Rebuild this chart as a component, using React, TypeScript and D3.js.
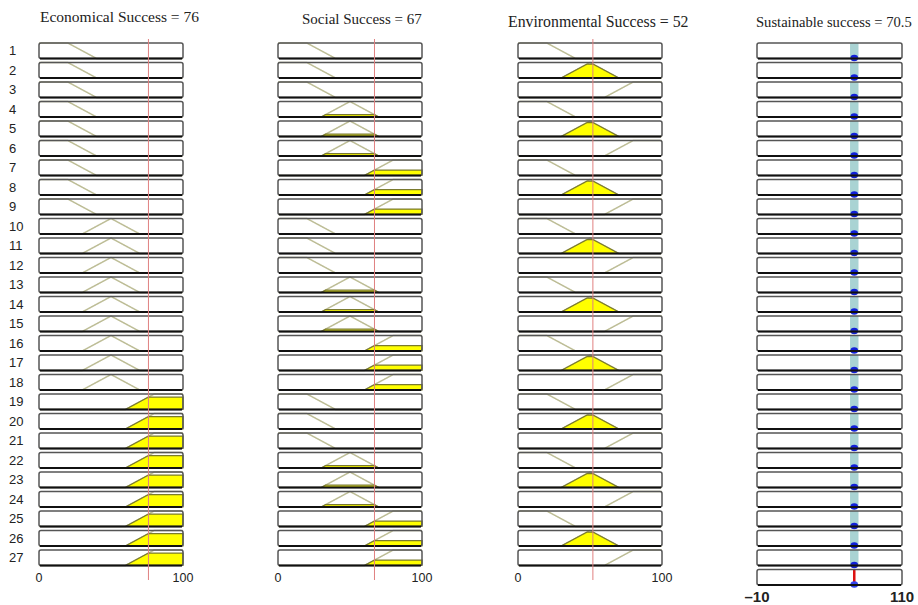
import React from "react";
import * as d3 from "d3";

// Input variables and their crisp values
const inputNames = ["Economical Success", "Social Success", "Environmental Success"];
const inputValues = [76, 67, 52];
const outputName = "Sustainable success";
const outputValue = 70.5;
const outputDomain: [number, number] = [-10, 110];
const inputDomain: [number, number] = [0, 100];

// Membership functions shared by all inputs (low, medium, high)
const mfLow = [0, 0, 20, 40];
const mfMedium = [30, 50, 50, 70];
const mfHigh = [60, 80, 100, 100];
const memberships = [mfLow, mfMedium, mfHigh];

// Rule antecedents: index of membership function per input (0 low, 1 medium, 2 high)
const ruleEcon = [0,0,0,0,0,0,0,0,0, 1,1,1,1,1,1,1,1,1, 2,2,2,2,2,2,2,2,2];
const ruleSocial = [0,0,0,1,1,1,2,2,2, 0,0,0,1,1,1,2,2,2, 0,0,0,1,1,1,2,2,2];
const ruleEnv = [0,1,2,0,1,2,0,1,2, 0,1,2,0,1,2,0,1,2, 0,1,2,0,1,2,0,1,2];
const ruleOutputs = Array(27).fill(70.5);
const outputSpread = 7;

const W = 918;
const H = 605;
const rowTop = 43;
const rowPitch = 19.5;
const boxH = 15.5;

const panelX = [
  [39, 183],
  [278, 422],
  [518, 662],
];
const outPanelX: [number, number] = [757, 902];

const titlePos = [
  { x: 40, y: 22, size: 15.5 },
  { x: 302, y: 24, size: 15 },
  { x: 508, y: 27, size: 15.8 },
];
const outTitlePos = { x: 756, y: 27, size: 14.6 };

function trap(x: number, p: number[]) {
  const [a, b, c, d] = p;
  if (x < a || x > d) return 0;
  if (x >= b && x <= c) return 1;
  if (x < b) return b === a ? 1 : (x - a) / (b - a);
  return d === c ? 1 : (d - x) / (d - c);
}

const rules = ruleEcon.map((e, i) => [e, ruleSocial[i], ruleEnv[i]]);

export default function App() {
  const xs = d3.range(0, 100.0001, 0.25);
  const outX = d3.scaleLinear().domain(outputDomain).range(outPanelX);
  const mfLineColor = "#bdbd96";
  const fillColor = "#ffff00";
  const fillStroke = "#7a7a2e";
  const redLine = "#e08080";
  const sans = "'Liberation Sans', Arial, sans-serif";
  const serif = "'Liberation Serif', serif";

  const box = (x0: number, x1: number, y: number, key: string) => (
    <g key={key}>
      <rect x={x0} y={y} width={x1 - x0} height={boxH} rx={2} fill="none" stroke="#555" strokeWidth={1.5} />
      <line x1={x0 + 1} x2={x1 - 1} y1={y + boxH} y2={y + boxH} stroke="#111" strokeWidth={2} />
    </g>
  );

  return (
    <svg width={W} height={H} style={{ position: "absolute", left: 0, top: 0, background: "#fff" }}>
      {inputNames.map((name, k) => {
        const [x0, x1] = panelX[k];
        const x = d3.scaleLinear().domain(inputDomain).range([x0, x1]);
        const val = inputValues[k];
        return (
          <g key={name}>
            <text x={titlePos[k].x} y={titlePos[k].y} fontFamily={serif} fontSize={titlePos[k].size} fill="#222">
              {`${name} = ${val}`}
            </text>
            {rules.map((r, i) => {
              const top = rowTop + i * rowPitch;
              const y = d3.scaleLinear().domain([0, 1]).range([top + boxH, top]);
              const p = memberships[r[k]];
              const deg = trap(val, p);
              const line = d3.line<number>().x((v) => x(v)).y((v) => y(trap(v, p)));
              const area = d3
                .area<number>()
                .x((v) => x(v))
                .y0(y(0))
                .y1((v) => y(Math.min(trap(v, p), deg)));
              const support = xs.filter((v) => trap(v, p) > 0);
              return (
                <g key={i}>
                  <rect x={x0} y={top} width={x1 - x0} height={boxH} fill="#fff" />
                  <path d={line(xs) || ""} fill="none" stroke={mfLineColor} strokeWidth={1.5} />
                  {deg > 0 && (
                    <path d={area(support) || ""} fill={fillColor} stroke={fillStroke} strokeWidth={1.2} />
                  )}
                  {box(x0, x1, top, "b" + i)}
                </g>
              );
            })}
            <line x1={x(val)} x2={x(val)} y1={39} y2={580} stroke={redLine} strokeWidth={1} />
            <text x={x0} y={582} textAnchor="middle" fontFamily={sans} fontSize={12.5} fill="#222">
              {inputDomain[0]}
            </text>
            <text x={x1} y={582} textAnchor="middle" fontFamily={sans} fontSize={12.5} fill="#222">
              {inputDomain[1]}
            </text>
          </g>
        );
      })}

      {rules.map((_, i) => (
        <text key={"n" + i} x={9} y={rowTop + i * rowPitch + boxH / 2 + 4.5} fontFamily={sans} fontSize={13} fill="#222">
          {i + 1}
        </text>
      ))}

      {/* Output panel */}
      <g>
        <text x={outTitlePos.x} y={outTitlePos.y} fontFamily={serif} fontSize={outTitlePos.size} fill="#222">
          {`${outputName} = ${outputValue}`}
        </text>
        {ruleOutputs.map((ov, i) => {
          const top = rowTop + i * rowPitch;
          return (
            <g key={i}>
              <rect x={outPanelX[0]} y={top} width={outPanelX[1] - outPanelX[0]} height={boxH} fill="#fff" />
              <rect
                x={outX(ov - outputSpread / 2)}
                y={top}
                width={outX(ov + outputSpread / 2) - outX(ov - outputSpread / 2)}
                height={boxH}
                fill="#a9d3d3"
              />
              <ellipse cx={outX(ov)} cy={top + boxH - 0.5} rx={3.8} ry={3.2} fill="#1020d8" />
              {box(outPanelX[0], outPanelX[1], top, "o" + i)}
            </g>
          );
        })}
        {(() => {
          const top = rowTop + 27 * rowPitch;
          return (
            <g>
              <rect x={outPanelX[0]} y={top} width={outPanelX[1] - outPanelX[0]} height={boxH} fill="#fff" />
              <line x1={outX(outputValue)} x2={outX(outputValue)} y1={top} y2={top + boxH} stroke="#dd1111" strokeWidth={2.5} />
              <ellipse cx={outX(outputValue)} cy={top + boxH - 0.5} rx={3.8} ry={3.2} fill="#3344ee" />
              {box(outPanelX[0], outPanelX[1], top, "oagg")}
            </g>
          );
        })()}
        <text x={outX(outputDomain[0])} y={602} textAnchor="middle" fontFamily={sans} fontSize={15} fontWeight={600} fill="#222">
          {"\u2013" + Math.abs(outputDomain[0])}
        </text>
        <text x={outX(outputDomain[1])} y={602} textAnchor="middle" fontFamily={sans} fontSize={15} fontWeight={600} fill="#222">
          {outputDomain[1]}
        </text>
      </g>
    </svg>
  );
}
